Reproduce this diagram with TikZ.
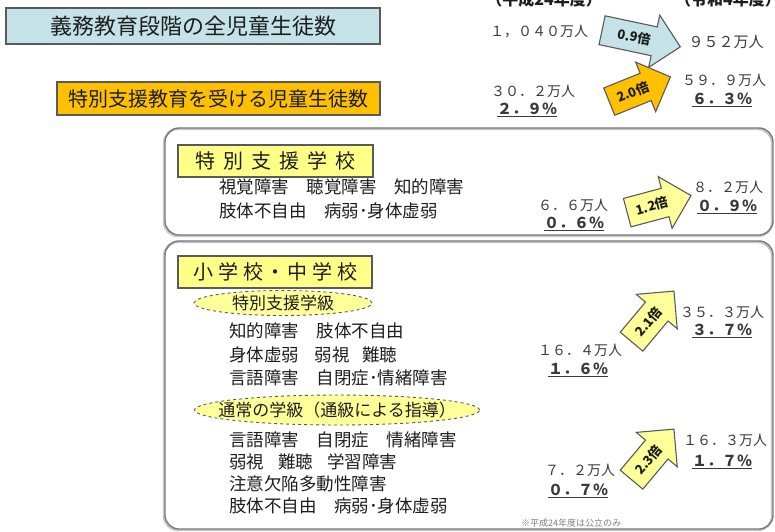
\documentclass[tikz,border=0pt]{standalone}
\usepackage{fontspec}
\setmainfont{Noto Sans CJK JP}
\usetikzlibrary{shapes.arrows,shapes.geometric}
\definecolor{tblue}{HTML}{C4E2E8}
\definecolor{tgold}{HTML}{FFC000}
\definecolor{lyel}{HTML}{FFFF88}
\definecolor{ayel}{HTML}{FFFF99}
\definecolor{eyel}{HTML}{FFFF99}
\definecolor{bord}{HTML}{5A5A5A}
\definecolor{numc}{HTML}{3A3A3A}
\definecolor{txtc}{HTML}{1E1E1E}
\newcommand{\fs}[1]{\fontsize{#1}{#1}\selectfont}
\tikzset{
  titlebox/.style={draw=bord, line width=2.2pt, inner sep=0pt, text=txtc},
  panel/.style={draw=bord!80, line width=1.4pt, rounded corners=14pt, inner sep=0pt},
  panelshadow/.style={draw=gray!45, line width=2.4pt, rounded corners=14pt, inner sep=0pt},
  lblbox/.style={draw=bord, line width=1.2pt, fill=lyel, inner sep=0pt, text=txtc, font=\fs{20}},
  oval/.style={ellipse, draw=bord, dashed, line width=0.9pt, fill=eyel, inner sep=0pt, text=txtc, font=\fs{17}},
  body/.style={anchor=west, text=txtc, font=\fs{17.5}, inner sep=0pt},
  num/.style={text=numc, font=\fs{14}, inner sep=0pt},
  pct/.style={text=numc, font=\bfseries\fs{15}, inner sep=0pt},
  rate/.style={single arrow, draw=bord, line width=1.1pt, inner xsep=2pt, inner ysep=8pt,
    single arrow head extend=12pt, minimum height=66pt, text=txtc, font=\bfseries\fs{13}},
  hdr/.style={text=txtc, font=\bfseries\fs{16}, inner sep=0pt}
}
\begin{document}
\begin{tikzpicture}[x=1pt,y=1pt]
\useasboundingbox (0,0) rectangle (775,-531);
\clip (0,0) rectangle (775,-531);
\fill[white] (0,0) rectangle (775,-531);

% cut-off column headers
\node[hdr] (h1) at (544,1) {（平成24年度）};
\node[hdr] (h2) at (728,1) {（令和4年度）};

% title boxes
\node[titlebox, fill=tblue, minimum width=374pt, minimum height=36pt] (t1) at (193,-26) {\fs{22}義務教育段階の全児童生徒数};
\node[titlebox, fill=tgold, minimum width=323pt, minimum height=33pt] (t2) at (218.5,-98.5) {\fs{20}特別支援教育を受ける児童生徒数};

% totals
\node[num] (n1) at (539,-32) {１，０４０万人};
\node[num, font=\fs{15}] (n2) at (726,-42) {９５２万人};
\node[rate, fill=tblue, minimum height=80pt, rotate=-12] (a1) at (634,-37) {0.9倍};

\node[num] (n3) at (533,-91) {３０．２万人};
\node[pct] (p3) at (527,-110) {\underline{２．９％}};
\node[num] (n4) at (724,-80) {５９．９万人};
\node[pct] (p4) at (722,-100) {\underline{６．３％}};
\node[rate, fill=tgold, rotate=22] (a2) at (633,-92) {2.0倍};

% panel 1 : special support schools
\node[panelshadow, minimum width=608pt, minimum height=107pt] (s1s) at (468,-182.5) {};
\node[panel, minimum width=608pt, minimum height=107pt] (s1) at (469,-181.5) {};
\node[lblbox, minimum width=195pt, minimum height=32pt] (l1) at (275.5,-161) {特\hspace{8pt}別\hspace{8pt}支\hspace{8pt}援\hspace{8pt}学\hspace{8pt}校};
\node[body] (b11) at (219,-187) {視覚障害\hspace{1em}聴覚障害\hspace{1em}知的障害};
\node[body] (b12) at (219,-211) {肢体不自由\hspace{1em}病弱･身体虚弱};
\node[num] (n5) at (573,-205) {６．６万人};
\node[pct] (p5) at (574,-224) {\underline{０．６％}};
\node[num] (n6) at (728,-187) {８．２万人};
\node[pct] (p6) at (727,-207) {\underline{０．９％}};
\node[rate, fill=ayel, rotate=15] (a3) at (652,-206) {1.2倍};

% panel 2 : elementary / junior high schools
\node[panelshadow, minimum width=608pt, minimum height=288pt] (s2s) at (468,-386) {};
\node[panel, minimum width=608pt, minimum height=288pt] (s2) at (469,-385) {};
\node[lblbox, minimum width=194pt, minimum height=32pt] (l2) at (275,-272) {小\hspace{5pt}学\hspace{5pt}校\hspace{2pt}・\hspace{2pt}中\hspace{5pt}学\hspace{5pt}校};
\node[oval, minimum width=178pt, minimum height=25pt] (o1) at (283,-303) {\makebox[0pt]{特別支援学級}};
\node[body] (b21) at (229,-331) {知的障害\hspace{1em}肢体不自由};
\node[body] (b22) at (229,-355) {身体虚弱\hspace{0.9em}弱視\hspace{0.7em}難聴};
\node[body] (b23) at (229,-378) {言語障害\hspace{1em}自閉症･情緒障害};
\node[oval, minimum width=285pt, minimum height=30pt] (o2) at (337,-410) {\makebox[0pt]{通常の学級（通級による指導）}};
\node[body] (b31) at (229,-440) {言語障害\hspace{1em}自閉症\hspace{1em}情緒障害};
\node[body] (b32) at (229,-462) {弱視\hspace{0.8em}難聴\hspace{0.8em}学習障害};
\node[body] (b33) at (229,-484) {注意欠陥多動性障害};
\node[body] (b34) at (229,-506) {肢体不自由\hspace{1em}病弱･身体虚弱};

\node[num] (n7) at (580,-350) {１６．４万人};
\node[pct] (p7) at (578,-370) {\underline{１．６％}};
\node[num] (n8) at (722,-312) {３５．３万人};
\node[pct] (p8) at (722,-331) {\underline{３．７％}};
\node[rate, fill=ayel, rotate=50] (a4) at (648,-322) {2.1倍};

\node[num] (n9) at (580,-470) {７．２万人};
\node[pct] (p9) at (578,-491) {\underline{０．７％}};
\node[num] (n10) at (725,-440) {１６．３万人};
\node[pct] (p10) at (722,-462) {\underline{１．７％}};
\node[rate, fill=ayel, rotate=50] (a5) at (648,-460) {2.3倍};

\node[text=gray, font=\fs{9}, inner sep=0pt] (fn) at (571,-523) {※平成24年度は公立のみ};
\end{tikzpicture}
\end{document}
